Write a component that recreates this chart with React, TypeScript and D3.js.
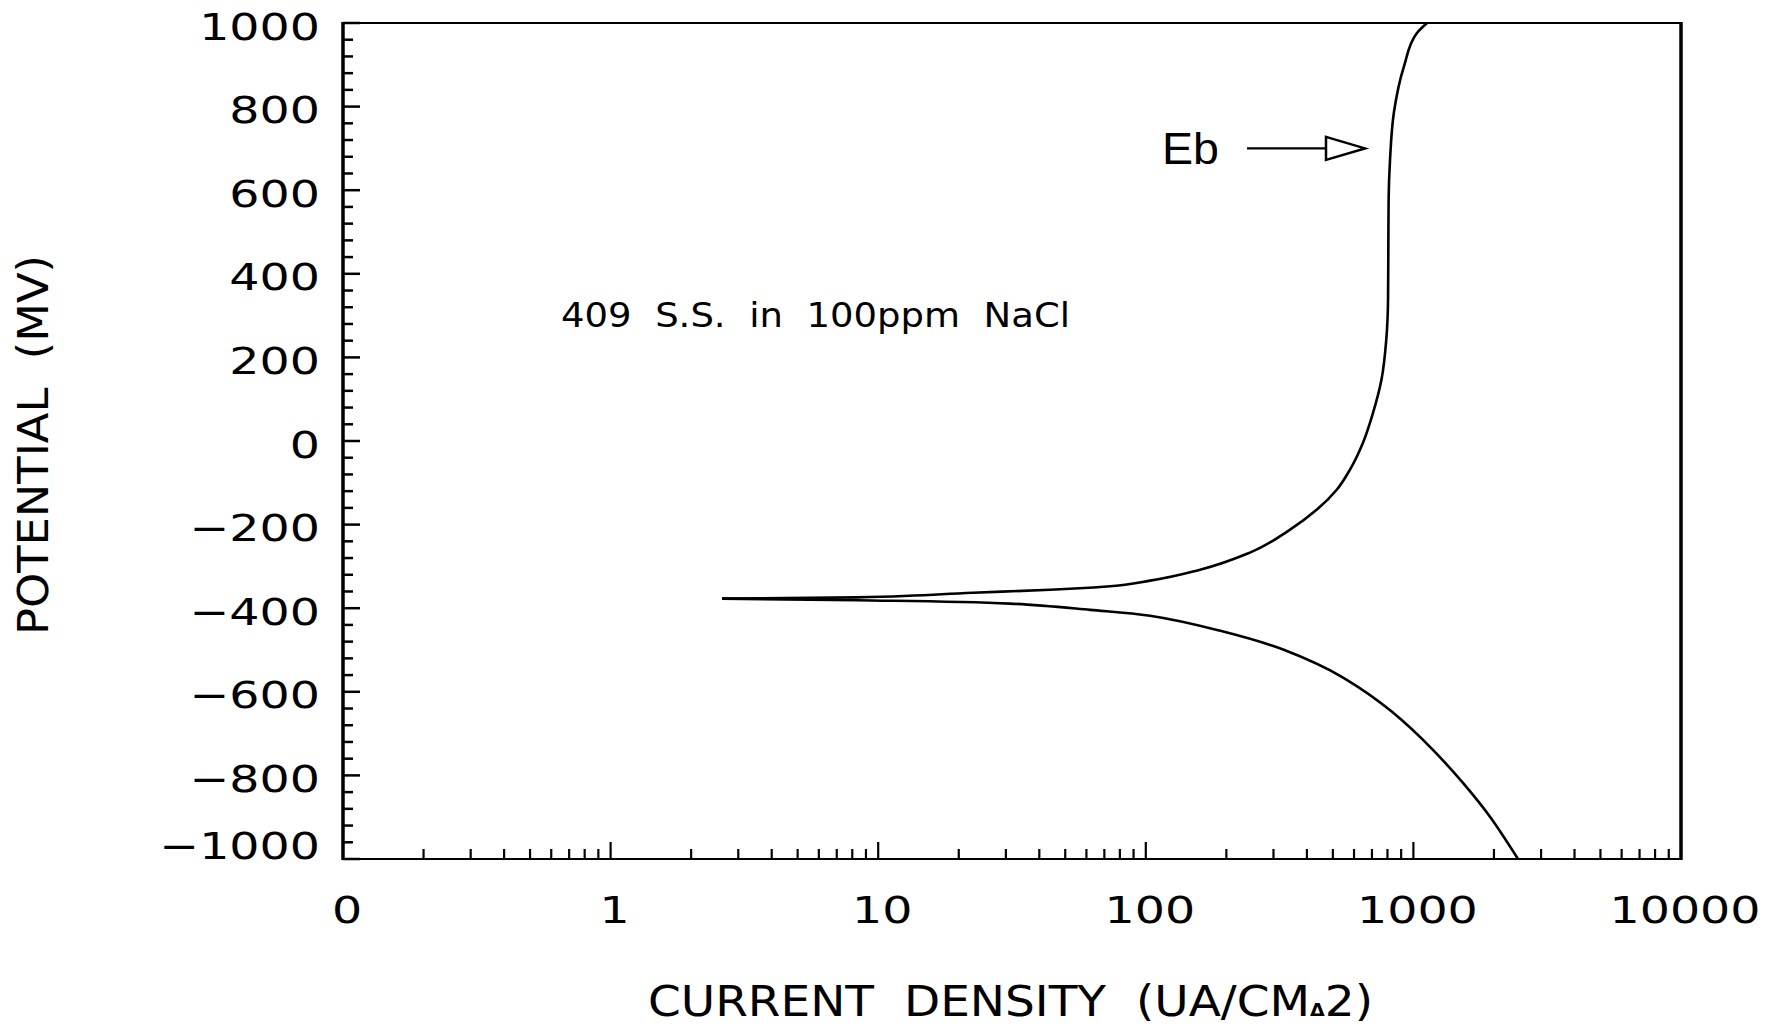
import React from "react";
import * as d3 from "d3";

// ---- data ----
const anodicCurrent = [2.61, 8.33, 22.6, 43.9, 71.6, 103.7, 159.5, 245, 346, 436, 518, 580, 648, 707, 760, 792, 804, 806, 808, 818, 846, 922, 1031, 1125];
const anodicPotential = [-377, -374, -363, -356, -348, -334, -308, -267, -212, -164, -116, -68, -4, 68, 147, 243, 339, 459, 578, 674, 787, 896, 976, 1000];
const cathodicCurrent = [2.61, 8.33, 31.1, 61.9, 103.7, 184.5, 326, 546, 832, 1183, 1532, 1933, 2460];
const cathodicPotential = [-377, -381, -389, -404, -418, -452, -499, -566, -648, -739, -818, -899, -1000];

const yTickValues = [1000, 800, 600, 400, 200, 0, -200, -400, -600, -800, -1000];
const yTickLabels = ["1000", "800", "600", "400", "200", "0", "\u2212200", "\u2212400", "\u2212600", "\u2212800", "\u22121000"];
const xTickValues = [0.1, 1, 10, 100, 1000, 10000];
const xTickLabels = ["0", "1", "10", "100", "1000", "10000"];

const annotationText = "409  S.S.  in  100ppm  NaCl";
const ebLabel = "Eb";
const ebPotential = 700;
const xTitle = "CURRENT  DENSITY  (UA/CM";
const yTitle = "POTENTIAL  (MV)";

const W = 1765;
const H = 1027;
const M = { left: 343, right: 1681, top: 23, bottom: 859 };

const FONT = "'DejaVu Sans', sans-serif";

export default function App() {
  const x = d3.scaleLog().domain([0.1, 10000]).range([M.left, M.right]);
  const y = d3.scaleLinear().domain([-1000, 1000]).range([M.bottom, M.top]);

  const lineY = d3
    .line<[number, number]>()
    .x((d) => x(d[0]))
    .y((d) => y(d[1]))
    .curve(d3.curveMonotoneY);
  const lineX = d3
    .line<[number, number]>()
    .x((d) => x(d[0]))
    .y((d) => y(d[1]))
    .curve(d3.curveMonotoneX);

  // ordered so that screen y increases (potential decreasing)
  const anodic: [number, number][] = anodicCurrent
    .map((c, i) => [c, anodicPotential[i]] as [number, number])
    .reverse();
  const cathodic: [number, number][] = cathodicCurrent.map((c, i) => [c, cathodicPotential[i]]);

  const yMinor = d3.range(-1000, 1001, 40).filter((v) => v % 200 !== 0);
  const xAll = x.ticks(50).filter((v) => v > 0.1 && v < 10000);
  const isDecade = (v: number) => Math.abs(Math.log10(v) - Math.round(Math.log10(v))) < 1e-9;

  const ebY = y(ebPotential);

  return (
    <svg
      width={W}
      height={H}
      style={{ position: "absolute", left: 0, top: 0, background: "#fff" }}
    >
      <rect x={0} y={0} width={W} height={H} fill="#fff" />

      {/* frame */}
      <line x1={M.left} y1={M.top} x2={M.right} y2={M.top} stroke="#000" strokeWidth={2} />
      <line x1={M.left} y1={M.bottom} x2={M.right} y2={M.bottom} stroke="#000" strokeWidth={2} />
      <line x1={M.left} y1={M.top - 1} x2={M.left} y2={M.bottom + 1} stroke="#000" strokeWidth={3.5} />
      <line x1={M.right} y1={M.top - 1} x2={M.right} y2={M.bottom + 1} stroke="#000" strokeWidth={3.5} />

      {/* y ticks */}
      {yTickValues.map((v) => (
        <line key={"ym" + v} x1={M.left} x2={M.left + 17} y1={y(v)} y2={y(v)} stroke="#000" strokeWidth={2.5} />
      ))}
      {yMinor.map((v) => (
        <line key={"yn" + v} x1={M.left} x2={M.left + 10} y1={y(v)} y2={y(v)} stroke="#000" strokeWidth={2.5} />
      ))}

      {/* x ticks */}
      {xAll.map((v) => (
        <line
          key={"x" + v}
          x1={x(v)}
          x2={x(v)}
          y1={M.bottom}
          y2={M.bottom - (isDecade(v) ? 17 : 10)}
          stroke="#000"
          strokeWidth={2.2}
        />
      ))}

      {/* y labels */}
      {yTickValues.map((v, i) => (
        <text
          key={"yl" + v}
          transform={`translate(320,${y(v) + (v === -1000 ? -14 : 3)}) scale(1.25,1)`}
          textAnchor="end"
          dy="0.36em"
          fontFamily={FONT}
          fontSize={38}
          fill="#000"
        >
          {yTickLabels[i]}
        </text>
      ))}

      {/* x labels */}
      {xTickValues.map((v, i) => (
        <text
          key={"xl" + v}
          transform={`translate(${x(v) + 4},923) scale(1.25,1)`}
          textAnchor="middle"
          fontFamily={FONT}
          fontSize={38}
          fill="#000"
        >
          {xTickLabels[i]}
        </text>
      ))}

      {/* curves */}
      <path d={lineY(anodic) || ""} fill="none" stroke="#000" strokeWidth={2.6} />
      <path d={lineX(cathodic) || ""} fill="none" stroke="#000" strokeWidth={2.6} />

      {/* annotation */}
      <text
        x={561}
        y={327}
        fontFamily={FONT}
        fontSize={34}
        textLength={509}
        lengthAdjust="spacingAndGlyphs"
        style={{ whiteSpace: "pre" }}
        fill="#000"
      >
        {annotationText}
      </text>

      {/* Eb arrow */}
      <text
        x={1162}
        y={ebY + 16}
        fontFamily="'Liberation Sans', Arial, sans-serif"
        fontSize={44}
        textLength={57}
        lengthAdjust="spacingAndGlyphs"
        fill="#000"
      >
        {ebLabel}
      </text>
      <line x1={1247} x2={1326} y1={ebY} y2={ebY} stroke="#000" strokeWidth={2.2} />
      <path
        d={`M1326,${ebY - 11.5} L1365,${ebY} L1326,${ebY + 11.5} Z`}
        fill="#fff"
        stroke="#000"
        strokeWidth={2.5}
        strokeLinejoin="miter"
      />

      {/* axis titles */}
      <text
        x={648}
        y={1016}
        fontFamily={FONT}
        fontSize={42}
        textLength={725}
        lengthAdjust="spacingAndGlyphs"
        style={{ whiteSpace: "pre" }}
        fill="#000"
      >
        {xTitle}
        <tspan fontSize={17} fontWeight="bold">{"\u0394"}</tspan>
        {"2)"}
      </text>
      <text
        transform={`translate(48,445) rotate(-90)`}
        textAnchor="middle"
        fontFamily={FONT}
        fontSize={42}
        textLength={380}
        lengthAdjust="spacingAndGlyphs"
        style={{ whiteSpace: "pre" }}
        fill="#000"
      >
        {yTitle}
      </text>
    </svg>
  );
}
